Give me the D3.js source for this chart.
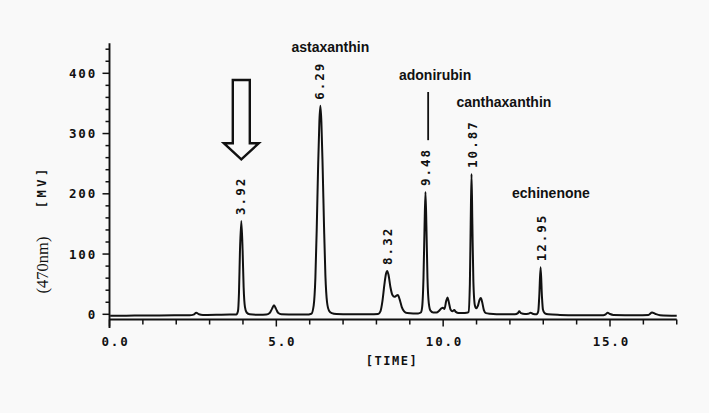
<!DOCTYPE html>
<html>
<head>
<meta charset="utf-8">
<script src="https://cdn.jsdelivr.net/npm/d3@7"></script>
<style>
  html, body { margin: 0; padding: 0; background: #f9f9f9; }
  svg { display: block; }
  .mono { font-family: "DejaVu Sans Mono", monospace; font-weight: bold; fill: #111; }
</style>
</head>
<body>
<svg id="chart"></svg>
<script>
// chromatogram trace: [time (min), signal (mV)]
const trace = [
  [0.02,-2.3],[0.5,-2.2],[1.0,-2.0],[1.5,-1.9],[2.0,-1.7],[2.4,-1.5],[2.52,-0.5],[2.60,2.5],[2.68,0],[2.80,-1.0],
  [3.2,-0.8],[3.6,-0.5],[3.80,-0.5],[3.85,5],[3.88,35],[3.91,105],[3.95,155],[3.99,105],[4.02,45],[4.06,12],
  [4.11,3],[4.20,0],[4.5,-0.8],[4.70,-0.5],[4.80,2],[4.87,9],[4.93,15],[4.99,9],[5.06,2],[5.15,0],
  [5.6,-0.5],[5.9,-0.5],[6.05,1],[6.12,15],[6.17,60],[6.21,140],[6.25,240],[6.29,320],[6.32,346],[6.35,320],
  [6.39,240],[6.43,145],[6.47,65],[6.52,20],[6.58,6],[6.66,2],[6.8,0.5],[7.2,0],[7.8,0],[8.05,0.5],
  [8.12,5],[8.18,22],[8.24,50],[8.29,68],[8.32,72],[8.36,66],[8.42,45],[8.48,32],[8.54,29],[8.60,31],
  [8.64,32],[8.70,24],[8.76,12],[8.83,5],[8.92,2],[9.1,1.5],[9.25,1.5],[9.33,3],[9.37,12],[9.41,60],
  [9.44,140],[9.47,203],[9.50,140],[9.53,60],[9.57,18],[9.62,6],[9.70,3],[9.80,3],[9.88,6],[9.95,10],
  [9.99,11],[10.04,9],[10.09,22],[10.13,28],[10.17,20],[10.22,8],[10.28,5],[10.33,7],[10.38,4],[10.46,2],
  [10.6,2],[10.70,2.5],[10.76,4],[10.80,50],[10.825,150],[10.85,233],[10.875,150],[10.905,55],[10.95,15],[10.99,10],
  [11.04,14],[11.09,24],[11.13,27],[11.17,20],[11.22,7],[11.28,2],[11.4,1],[11.8,0],[12.15,0],[12.24,2],
  [12.28,5],[12.33,2],[12.45,0.5],[12.55,1],[12.62,2.5],[12.70,0.5],[12.80,0],[12.85,5],[12.88,30],[12.92,78],
  [12.96,30],[12.99,8],[13.04,2],[13.15,0],[13.5,-1],[14.0,-1.5],[14.8,-1.5],[14.87,0],[14.93,2.5],[15.0,0.5],
  [15.1,-1],[15.8,-1.5],[16.15,-1],[16.26,3],[16.35,1],[16.5,-1.5],[17.0,-2.5]
];

// retention time labels and apex heights
const peakLabels = ["3.92", "6.29", "8.32", "9.48", "10.87", "12.95"];
const peakHeights = [155, 346, 72, 203, 233, 78];

// compound names (time, mV of text baseline)
const compoundNames = ["astaxanthin", "adonirubin", "canthaxanthin", "echinenone"];
const compoundTimes = [6.62, 9.76, 11.82, 13.23];
const compoundLevels = [435, 389, 344, 193];

const xMajorTicks = [0, 5, 10, 15];
const yMajorTicks = [0, 100, 200, 300, 400];

const w = 709;
const h = 413;

const svg = d3.select("#chart").attr("width", w).attr("height", h);

const x = d3.scaleLinear().domain([0, 15]).range([109.5, 610]);
const y = d3.scaleLinear().domain([0, 400]).range([314.3, 73.3]);

const axisY = 319.5;

// y axis line + ticks
svg.append("line")
  .attr("x1", x(0)).attr("x2", x(0))
  .attr("y1", y(450)).attr("y2", 328)
  .attr("stroke", "#111").attr("stroke-width", 1.9);

svg.append("g")
  .selectAll("line")
  .data(d3.range(0, 441, 20))
  .enter()
  .append("line")
  .attr("x1", (d) => x(0) - (d % 100 === 0 ? 7 : 4))
  .attr("x2", x(0))
  .attr("y1", (d) => y(d)).attr("y2", (d) => y(d))
  .attr("stroke", "#111").attr("stroke-width", 1.5);

svg.append("g")
  .selectAll("text")
  .data(yMajorTicks)
  .enter()
  .append("text")
  .attr("class", "mono")
  .attr("x", 97)
  .attr("y", (d) => y(d))
  .attr("dy", "0.36em")
  .attr("text-anchor", "end")
  .style("font-size", "12.5px")
  .style("letter-spacing", "1.8px")
  .text((d) => d);

// x axis line + ticks
svg.append("line")
  .attr("x1", x(0)).attr("x2", x(17))
  .attr("y1", axisY).attr("y2", axisY)
  .attr("stroke", "#111").attr("stroke-width", 1.9);

svg.append("g")
  .selectAll("line")
  .data(d3.range(0, 18))
  .enter()
  .append("line")
  .attr("x1", (d) => x(d)).attr("x2", (d) => x(d))
  .attr("y1", axisY)
  .attr("y2", (d) => axisY + (d % 5 === 0 ? 7 : 5))
  .attr("stroke", "#111").attr("stroke-width", 1.5);

svg.append("g")
  .selectAll("text")
  .data(xMajorTicks)
  .enter()
  .append("text")
  .attr("class", "mono")
  .attr("x", (d) => x(d) + 20)
  .attr("y", 346)
  .attr("text-anchor", "end")
  .style("font-size", "12.5px")
  .style("letter-spacing", "1.8px")
  .text((d) => d.toFixed(1));

// axis titles
svg.append("text")
  .attr("class", "mono")
  .attr("x", 392).attr("y", 365)
  .attr("text-anchor", "middle")
  .style("font-size", "12px")
  .style("letter-spacing", "1.5px")
  .text("[TIME]");

svg.append("text")
  .attr("class", "mono")
  .attr("transform", "translate(41.7,186.7) rotate(-90)")
  .attr("dy", "0.35em")
  .attr("text-anchor", "middle")
  .style("font-size", "12px")
  .style("letter-spacing", "3.5px")
  .text("[MV]");

svg.append("text")
  .attr("transform", "translate(42,265) rotate(-90)")
  .attr("dy", "0.35em")
  .attr("text-anchor", "middle")
  .style("font-family", "'Liberation Serif', 'Times New Roman', serif")
  .style("font-size", "16.5px")
  .style("fill", "#111")
  .text("(470nm)");

// signal
const line = d3.line()
  .x((d) => x(d[0]))
  .y((d) => y(d[1]))
  .curve(d3.curveMonotoneX);

svg.append("path")
  .datum(trace)
  .attr("fill", "none")
  .attr("stroke", "#111")
  .attr("stroke-width", 2)
  .attr("stroke-linejoin", "round")
  .attr("d", line);

// retention time labels, printed sideways above each apex
svg.append("g")
  .selectAll("text")
  .data(peakLabels)
  .enter()
  .append("text")
  .attr("class", "mono")
  .attr("transform", (d, i) => `translate(${x(+d)},${y(peakHeights[i]) - 6}) rotate(-90)`)
  .attr("dy", "0.36em")
  .style("font-size", "12.5px")
  .style("letter-spacing", "2px")
  .text((d) => d);

// compound names
svg.append("g")
  .selectAll("text")
  .data(compoundNames)
  .enter()
  .append("text")
  .attr("x", (d, i) => x(compoundTimes[i]))
  .attr("y", (d, i) => y(compoundLevels[i]))
  .attr("text-anchor", "middle")
  .style("font-family", "'Liberation Sans', Arial, sans-serif")
  .style("font-weight", "bold")
  .style("font-size", "14px")
  .style("fill", "#111")
  .text((d) => d);

// leader line under adonirubin
svg.append("line")
  .attr("x1", x(9.55)).attr("x2", x(9.55))
  .attr("y1", y(369)).attr("y2", y(289))
  .attr("stroke", "#111").attr("stroke-width", 1.8);

// hollow arrow pointing at the 3.92 peak
const ax = x(3.95);
const shaftTop = y(389), headTop = y(284), tip = y(257);
const arrow = [
  [ax - 8.5, shaftTop], [ax + 8.5, shaftTop], [ax + 8.5, headTop], [ax + 17.5, headTop],
  [ax, tip], [ax - 17.5, headTop], [ax - 8.5, headTop]
];
svg.append("path")
  .attr("d", d3.line()(arrow) + "Z")
  .attr("fill", "none")
  .attr("stroke", "#111")
  .attr("stroke-width", 2.4)
  .attr("stroke-linejoin", "miter");
</script>
</body>
</html>
